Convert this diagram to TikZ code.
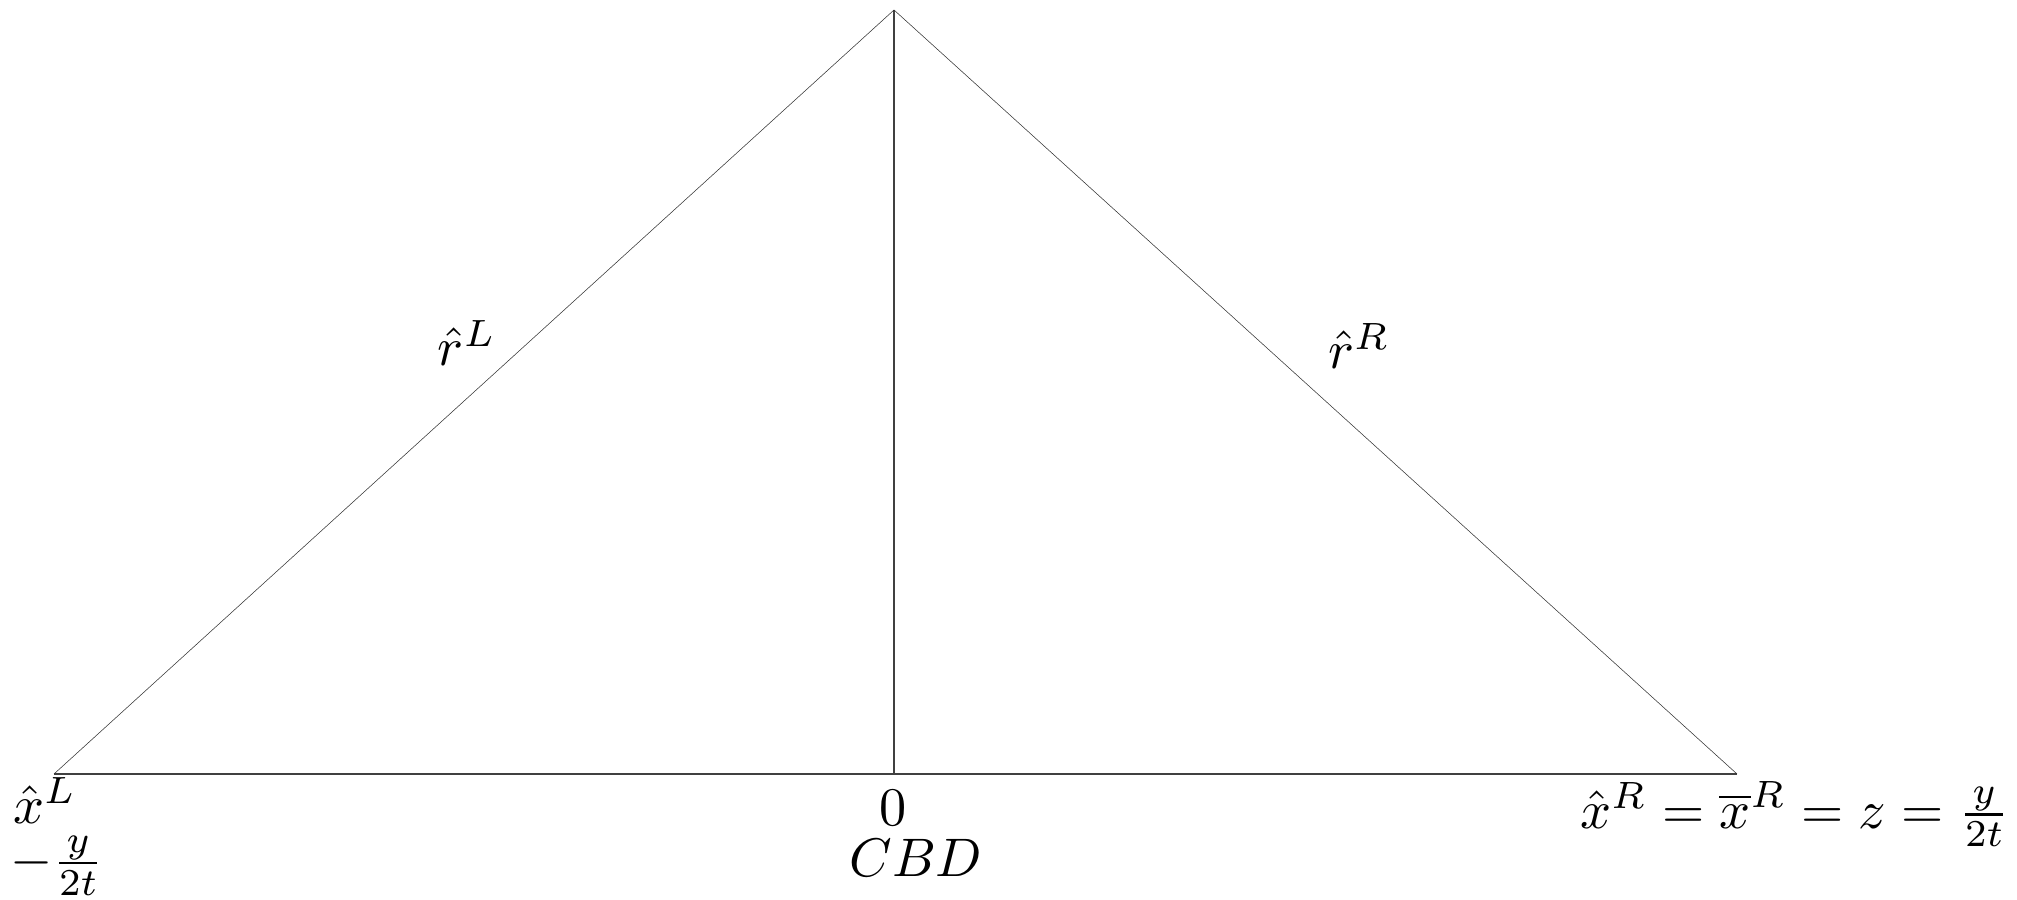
\documentclass[tikz,border=0pt]{standalone}
\usepackage{amsmath,amssymb}
\usepackage{tikz}
\usetikzlibrary{positioning}

\begin{document}
\begin{tikzpicture}[
  x=0.1842pt,y=-0.1842pt,
  axis/.style={draw=black!75,line width=0.2pt},
  edge/.style={draw=black!80,line width=0.1pt},
  lbl/.style={inner sep=0pt,outer sep=0pt}]
\useasboundingbox (0,0) rectangle (2017,900);

\coordinate (top) at (894,10);
\coordinate (xl)  at (54,774);
\coordinate (xr)  at (1737,774);
\coordinate (org) at (894,774);

\draw[axis] (xl) -- (xr);
\draw[axis] (org) -- (top);
\draw[edge] (xl) -- (top) -- (xr);

\node[lbl,anchor=north west] (xhl) at (13,778) {$\hat{x}^L$};
\node[lbl] (yl) at (57,866) {$-\frac{y}{2t}$};
\node[lbl] (zero) at (893,808) {$0$};
\node[lbl] (cbd) at (916,858) {$CBD$};
\node[lbl] (xhr) at (1795,814) {$\hat{x}^R=\overline{x}^R=z=\frac{y}{2t}$};

\node[lbl] (rl) at (467,343) {$\hat{r}^L$};
\node[lbl] (rr) at (1359,346) {$\hat{r}^R$};
\end{tikzpicture}
\end{document}
